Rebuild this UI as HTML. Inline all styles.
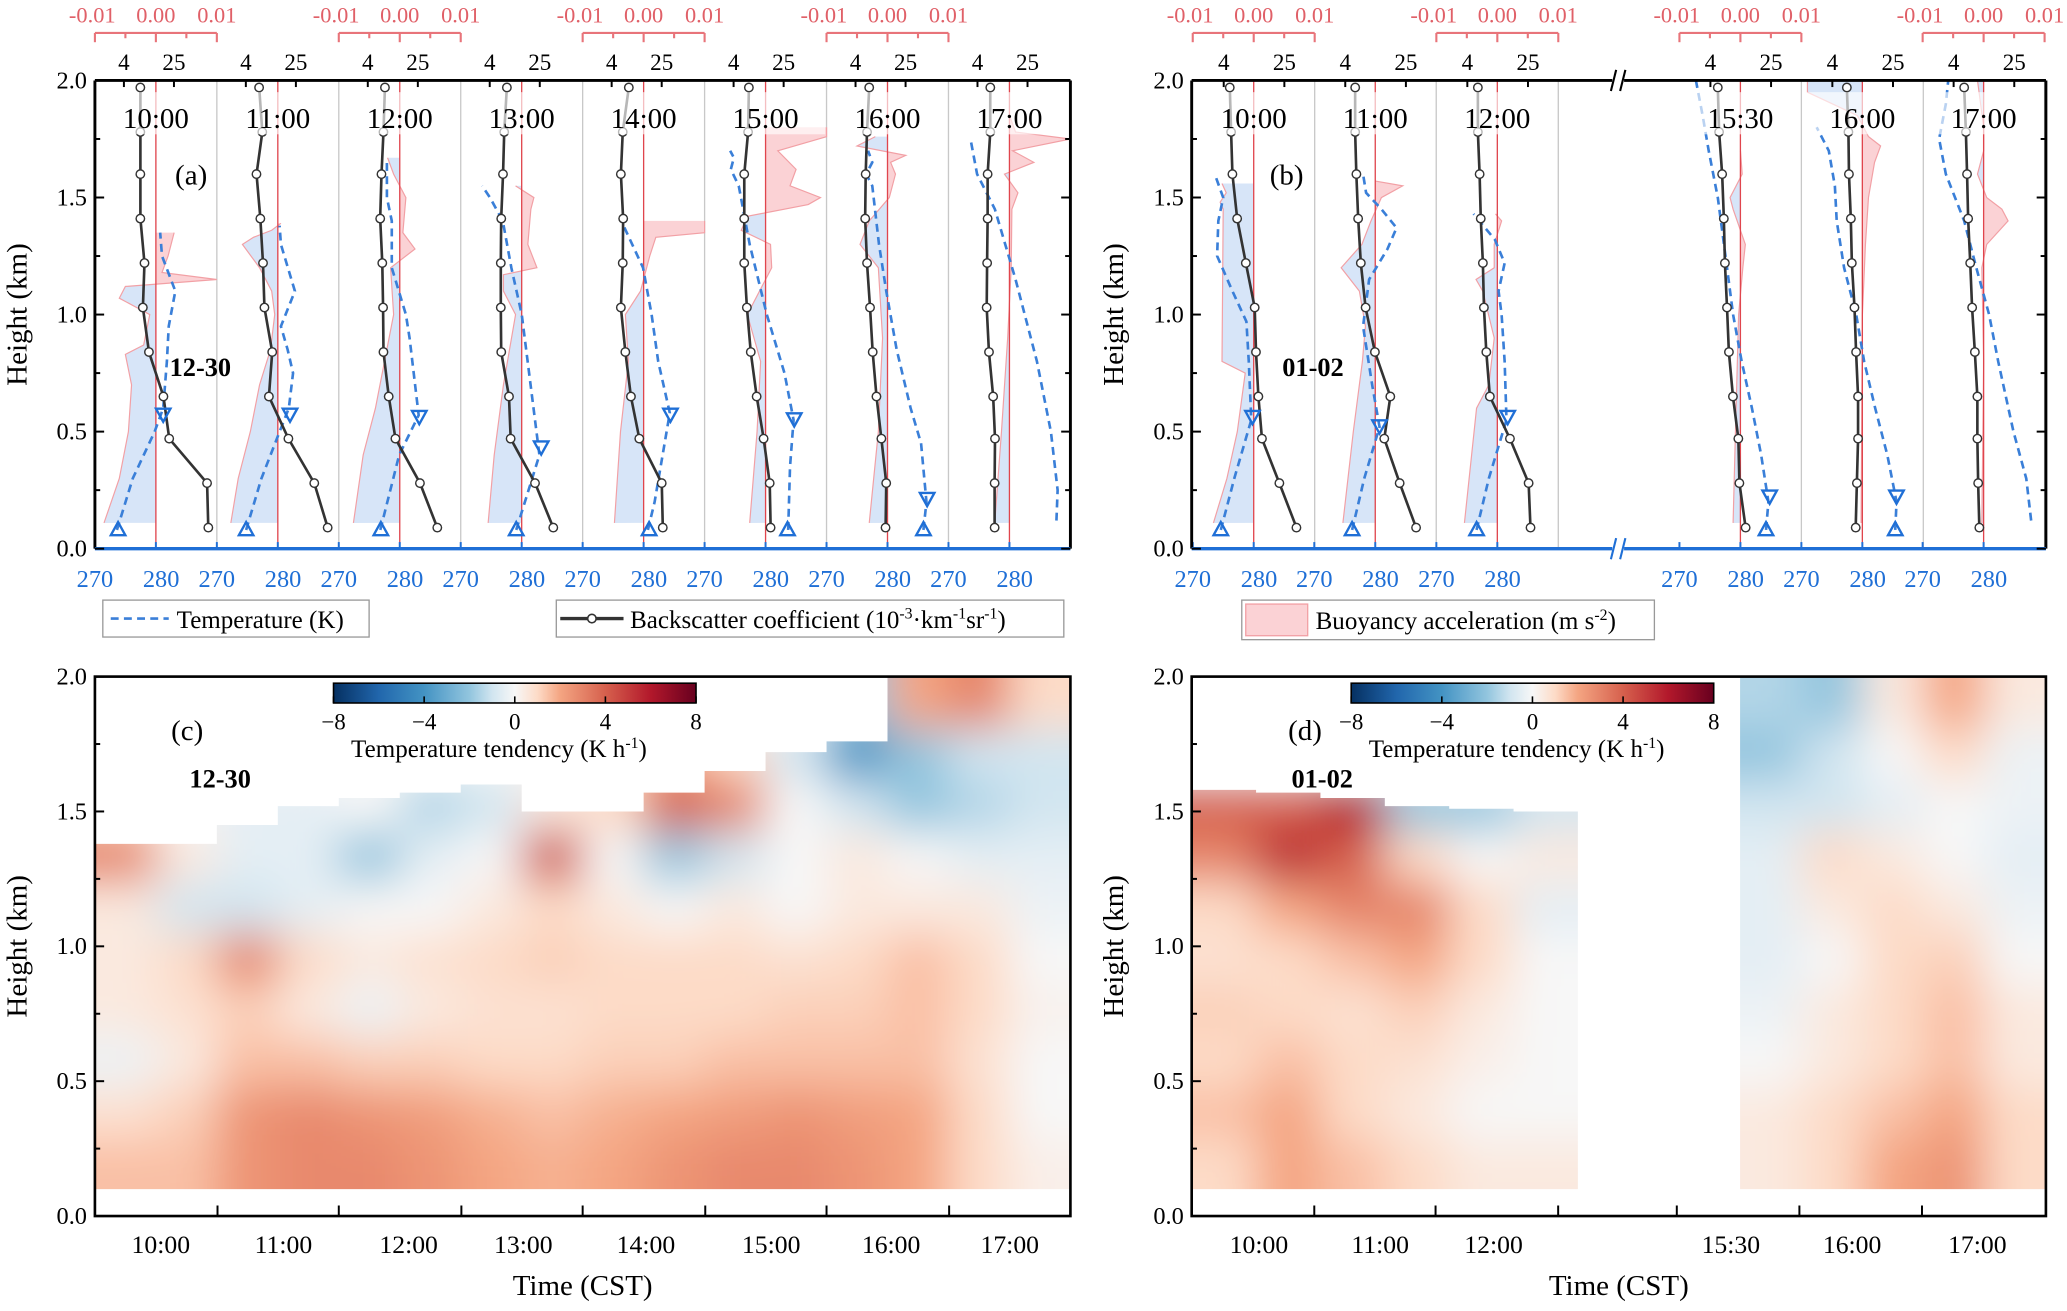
<!DOCTYPE html>
<html><head><meta charset="utf-8">
<style>
html,body{margin:0;padding:0;background:#fff;}
svg{display:block;font-family:"Liberation Serif",serif;}
</style></head>
<body>
<svg id="fig" xmlns="http://www.w3.org/2000/svg" width="2067" height="1311" viewBox="0 0 1568 994" preserveAspectRatio="none"></svg>
<script>
// ---------- DATA ----------
const bsHeights = [0.09,0.28,0.47,0.65,0.84,1.03,1.22,1.41,1.6,1.78,1.97];
const timesA = ["10:00","11:00","12:00","13:00","14:00","15:00","16:00","17:00"];
const timesB = ["10:00","11:00","12:00","15:30","16:00","17:00"];
const backscatterA = [
 [88,84,21,17,10,8,8.5,7.3,7.3,7.3,7.3],
 [80,49,19,9.3,10.5,7.9,7.5,6.8,5.9,7.3,6.5],
 [51,27,11,8.6,7.1,7,6.8,6.3,6.6,7.1,7.5],
 [41,21,8.6,8.1,6.1,6,6,6.1,6.5,6.8,7.5],
 [26,25,11,8.1,6.6,5.6,6,6.1,5.6,6,7.5],
 [15.5,15,12,9.3,7.5,6.5,5.9,5.9,5.9,6.8,7],
 [12,12.3,10.3,8.6,7.5,6.8,6.1,5.7,5.8,6.1,6.6],
 [7.5,7.5,7.6,7.1,6.1,5.6,5.7,5.8,5.8,6.4,6.4]];
const backscatterB = [
 [36,21.5,12.7,11.4,10.6,10.2,7.8,6,5.2,5,4.8],
 [34,20.7,13,15.6,9.8,7.4,6.4,5.9,5.6,5.4,5.4],
 [27,25.5,14.5,7.9,7.1,6.6,6.4,6,5.8,5.5,5.5],
 [11.6,9.6,9.3,7.9,7,6.6,6.2,6,5.7,5.2,5],
 [8.1,8.4,8.7,8.7,8.2,7.8,7.2,7,6.6,6.5,6.2],
 [8.7,8.4,8.2,8.2,7.6,7,6.6,6.2,6,5.8,5.5]];
const temperatureA = [
 [[0.08,273.6],[0.3,276.2],[0.5,279.8],[0.6,281.2],[0.8,281.8],[0.95,282.1],[1.1,283.2],[1.25,281],[1.35,280.7]],
 [[0.08,274.8],[0.3,277.3],[0.5,280.3],[0.6,281.8],[0.75,282.5],[0.85,281.6],[0.95,280.5],[1.1,282.8],[1.3,280.5],[1.38,280.3]],
 [[0.08,276.8],[0.4,279.9],[0.57,283.1],[0.9,281.6],[1.0,281],[1.2,278.7],[1.4,278.7],[1.5,277.9],[1.66,277.9]],
 [[0.08,279.1],[0.4,282.9],[0.65,281.7],[1.0,280],[1.2,278.3],[1.4,276.9],[1.5,274.8],[1.55,273.5]],
 [[0.08,280.7],[0.2,281.8],[0.58,284.3],[0.8,282.4],[1.0,281.3],[1.2,279.9],[1.38,276.7]],
 [[0.08,283.7],[0.35,284],[0.55,284.6],[0.75,283.1],[1.0,280.2],[1.3,277.4],[1.55,275.6],[1.62,274.3],[1.67,274.8],[1.7,274.2]],
 [[0.08,285.9],[0.2,286.4],[0.45,285.5],[0.6,283.8],[0.85,281.5],[1.1,279.8],[1.3,278.6],[1.55,277.5],[1.6,276.5],[1.65,277.5],[1.7,276.8]],
 [[0.12,287.7],[0.25,287.9],[0.5,286.8],[0.8,284.5],[1.15,281],[1.45,277.6],[1.6,274.7],[1.75,273.6]]];
const temperatureB = [
 [[0.08,274.6],[0.3,276.8],[0.55,279.6],[0.8,279.2],[0.97,278.8],[1.1,276.5],[1.25,274],[1.4,274.2],[1.5,275],[1.6,273.6]],
 [[0.08,276.2],[0.3,278.2],[0.52,280.7],[0.7,279.5],[0.95,278],[1.15,279],[1.28,282],[1.37,283.5],[1.45,281],[1.52,278.5],[1.6,278]],
 [[0.08,276.6],[0.3,278.6],[0.55,281.5],[0.8,281.2],[1.0,280.7],[1.1,280.2],[1.22,281.2],[1.32,279.6],[1.43,276.1]],
 [[0.08,284.2],[0.2,284.6],[0.4,283.4],[0.6,281.9],[0.8,280.2],[1.0,278.8],[1.2,277.8],[1.5,276.3],[1.7,274.8],[1.85,273.8],[2.0,272.7]],
 [[0.08,285.4],[0.2,285.6],[0.4,284.1],[0.6,282.1],[0.8,280.3],[1.0,279],[1.2,277],[1.4,275.8],[1.55,275.5],[1.7,274.5],[1.8,272.5]],
 [[0.12,287.8],[0.3,287],[0.5,284.9],[0.8,282.4],[1.0,280.9],[1.2,278.8],[1.4,276.8],[1.6,273.8],[1.75,272.7],[1.9,273.8],[2.0,274.2]]];
const buoyancyA = [
 [[0.11,-0.0085],[0.3,-0.006],[0.5,-0.0045],[0.7,-0.004],[0.83,-0.005],[0.87,-0.002],[1.0,-0.001],[1.07,-0.006],[1.12,-0.005],[1.15,0.01],[1.18,0.001],[1.25,0.002],[1.35,0.003]],
 [[0.11,-0.0077],[0.3,-0.0065],[0.5,-0.0045],[0.7,-0.003],[0.85,-0.0012],[1.0,-0.0005],[1.1,-0.001],[1.2,-0.003],[1.3,-0.0058],[1.33,-0.004],[1.36,-0.001],[1.39,0.0005]],
 [[0.11,-0.0076],[0.4,-0.006],[0.6,-0.004],[0.8,-0.0025],[1.0,-0.001],[1.2,-0.0015],[1.28,0.0025],[1.35,0.0005],[1.5,0.001],[1.6,-0.001],[1.67,-0.002]],
 [[0.11,-0.0055],[0.4,-0.0045],[0.7,-0.003],[1.0,-0.001],[1.1,-0.003],[1.17,-0.003],[1.2,0.0025],[1.3,0.001],[1.45,0.0015],[1.5,0.002],[1.55,-0.001]],
 [[0.11,-0.0048],[0.5,-0.0038],[0.8,-0.0025],[1.0,-0.003],[1.1,-0.0005],[1.25,0.001],[1.33,0.002],[1.35,0.01],[1.4,0.01]],
 [[0.11,-0.0026],[0.5,-0.0014],[0.8,-0.0008],[1.0,-0.003],[1.2,0.001],[1.3,0.0008],[1.36,-0.004],[1.42,-0.003],[1.47,0.007],[1.5,0.009],[1.55,0.004],[1.62,0.005],[1.7,0.002],[1.76,0.01],[1.8,0.01]],
 [[0.11,-0.003],[0.5,-0.0015],[0.9,-0.0008],[1.2,-0.0015],[1.3,-0.0045],[1.4,-0.003],[1.5,0.0003],[1.6,0.0013],[1.65,0.0005],[1.68,0.003],[1.72,-0.005],[1.76,-0.002]],
 [[0.11,-0.0024],[0.5,-0.0013],[0.9,-0.0003],[1.2,0.0003],[1.45,0.0004],[1.52,0.0014],[1.6,-0.0008],[1.65,0.004],[1.7,0.0005],[1.75,0.01],[1.78,0.001],[1.85,0]]];
const buoyancyB = [
 [[0.11,-0.0066],[0.3,-0.0044],[0.5,-0.0027],[0.75,-0.0014],[0.8,-0.0052],[1.45,-0.005],[1.48,-0.0055],[1.52,-0.0045],[1.56,-0.0052]],
 [[0.11,-0.0053],[0.5,-0.0036],[0.8,-0.0021],[0.95,-0.0016],[1.1,-0.0026],[1.2,-0.0056],[1.3,-0.0022],[1.4,-0.0007],[1.5,0.001],[1.55,0.0045],[1.57,0]],
 [[0.11,-0.0054],[0.6,-0.0034],[0.7,-0.0014],[0.9,-0.0005],[1.1,-0.0024],[1.15,-0.0035],[1.2,-0.0005],[1.3,-0.0005],[1.4,0.0007],[1.43,-0.0003]],
 [[0.11,-0.0012],[0.5,-0.0008],[1.0,-0.0003],[1.2,0.0004],[1.3,0.0008],[1.45,-0.0012],[1.5,-0.0017],[1.6,0.0003],[1.7,0]],
 [[0.11,-0.0002],[1.0,0],[1.3,0.0005],[1.5,0.001],[1.65,0.002],[1.72,0.003],[1.76,0.001],[1.85,-0.0008],[1.95,-0.009],[2.0,-0.009]],
 [[0.11,-0.0003],[0.8,0],[1.2,-0.0003],[1.3,0.0005],[1.4,0.004],[1.45,0.003],[1.5,0.0005],[1.6,-0.001],[1.7,0],[1.8,0],[2.0,-0.001]]];
const pblTopA = [[0.57,281.2],[0.57,282],[0.56,283.2],[0.43,283.2],[0.57,284.4],[0.55,284.7],[0.21,286.5],null];
const sblA = [[0.08,273.8],[0.08,274.8],[0.08,276.9],[0.08,279.1],[0.08,280.9],[0.08,283.6],[0.08,285.9],null];
const pblTopB = [[0.56,279.8],[0.52,280.7],[0.56,281.7],[0.22,284.8],[0.22,285.6],null];
const sblB = [[0.08,274.6],[0.08,276.2],[0.08,276.6],[0.08,284.2],[0.08,285.4],null];

// heatmap (c) 10 rows (bottom->top, 0.1..2.0) x 16 cols
const tendC = [
 [1.5,1.5,2.5,2.8,2.8,2.5,2,1.8,2,2.5,2.8,2.8,2.5,2,1,0.3],
 [0.8,1.2,2.5,2.8,2.5,2.2,1.8,1.5,1.8,2,2.2,2.5,2.2,2,1,0],
 [-0.3,0.5,1.5,1.5,1.2,1.2,1,1,1.2,1.2,1.5,1.5,1.5,1.5,0.8,0],
 [0.5,0.8,1.2,0.5,-0.3,0.5,0.8,0.8,1,1,1,1.2,1.2,1.5,1,0.2],
 [0.5,1,3,1,0.5,0.8,1,1.2,1,1,1,0.8,1,1.5,1,0],
 [0.5,-1,-1,-0.5,0,0,0.5,1,0.5,0,0.5,0,0.5,0.5,0.5,-0.3],
 [3,0.5,-0.5,-0.5,-2,-0.5,0,4.5,0,-2,-1,0,0.5,0,-0.5,-0.5],
 [1,0,-0.5,-0.5,0,-1.5,-1,0.5,1,4,3,0,-1,-2,-1.5,-1],
 [0,0,0,0,0,0,0,0,1,2,1,-1,-4,-2,-1,-1],
 [0,0,0,0,0,0,0,0,0,0,0,0,-2,2,3,1]];
const topsC = [1.38,1.38,1.45,1.52,1.55,1.57,1.6,1.5,1.5,1.57,1.65,1.72,1.76,2,2,2];
const tendDL = [
 [1,2,1.5,1,0.5,0.5],
 [1.5,2,1,0.5,0,0],
 [1,1.5,1,0.8,0.3,0],
 [1.2,1,0.8,1.2,0.5,0],
 [0.8,1,1.5,2,1,0],
 [1,2,3,3,1,-0.5],
 [3,5.5,4,1,0,0.5],
 [4,4,6,-2,-2,-1],
 [0,0,0,0,0,0],
 [0,0,0,0,0,0]];
const topsDL = [1.58,1.57,1.55,1.52,1.51,1.5];
const tendDR = [
 [0.5,1,2,2.5,1],
 [0.5,1,1.5,2,1],
 [0,0.5,1,1.5,0.5],
 [-0.3,0.5,1,1.5,0.5],
 [-0.5,0,1,1.2,0],
 [-0.5,0.5,1,0.5,-0.3],
 [-0.5,1,0.5,0,-0.5],
 [-1,-1,-0.5,0,-0.3],
 [-2,-1,0,1,-0.3],
 [-1.5,-2,0.5,2,0.5]];
const topsDR = [2,2,2,2,2];
const cbTicks = [-8,-4,0,4,8];
const timeLabelsC = ["10:00","11:00","12:00","13:00","14:00","15:00","16:00","17:00"];
const timeLabelsD = ["10:00","11:00","12:00","15:30","16:00","17:00"];

// ---------- HELPERS ----------
const NS="http://www.w3.org/2000/svg";
const svg=document.getElementById('fig');
function mk(tag,attrs,parent){const e=document.createElementNS(NS,tag);for(const k in attrs)e.setAttribute(k,attrs[k]);(parent||svg).appendChild(e);return e;}
function txt(s,x,y,size,attrs,parent){const e=mk('text',Object.assign({x:x,y:y,'font-size':size,'text-anchor':'middle'},attrs||{}),parent);e.textContent=s;return e;}
const defs=mk('defs',{});
let clipId=0;
function clipRect(x,y,w,h){const id='cl'+(clipId++);const c=mk('clipPath',{id:id},defs);mk('rect',{x:x,y:y,width:w,height:h},c);return 'url(#'+id+')';}

const stops=[[-8,[5,48,97]],[-6,[33,102,172]],[-4,[67,147,195]],[-2,[146,197,222]],[-1,[209,229,240]],[0,[247,247,247]],[1,[253,219,199]],[2,[244,165,130]],[4,[214,96,77]],[6,[178,24,43]],[8,[103,0,31]]];
function cmap(v){v=Math.max(-8,Math.min(8,v));for(let i=0;i<stops.length-1;i++){const a=stops[i],b=stops[i+1];if(v>=a[0]&&v<=b[0]){const t=(v-a[0])/(b[0]-a[0]);const c=a[1].map((x,j)=>Math.round(x+(b[1][j]-x)*t));return 'rgb('+c.join(',')+')';}}return '#fff';}

// ---------- PROFILE PANELS ----------
const BLUE='#1f6fd6', RED='#e8747a';
function profilePanel(cfg){
  const yTop=61,yBot=416;
  const Y=h=>yBot-h/2*(yBot-yTop);
  const g=mk('g',{});
  
  
  cfg.lefts.forEach((L,i)=>{
    const w=cfg.w;
    const XT=T=>L+(T-270)/20*w;
    const XB=b=>L+(b+0.01)/0.02*w;
    const XS=v=>L+cfg.bs4+(Math.log10(v)-Math.log10(4))*cfg.perDec;
    const sg=mk('g',{},g);
    
    
    mk('line',{x1:L+w,y1:yTop,x2:L+w,y2:yBot,stroke:'#c8c8c8','stroke-width':1},sg);
    const bp=cfg.buoy[i];
    let d='M'+XB(0)+','+Y(bp[0][0]);
    bp.forEach(p=>{d+=' L'+XB(p[1]).toFixed(1)+','+Y(p[0]).toFixed(1);});
    d+=' L'+XB(0)+','+Y(bp[bp.length-1][0])+' Z';
    const ba=mk('path',{d:d,fill:'#d7e5f8','clip-path':clipRect(L,yTop,w/2,yBot-yTop)},sg);
    
    
    const bb=mk('path',{d:d,fill:'#fbd2d5','clip-path':clipRect(L+w/2,yTop,w/2,yBot-yTop)},sg);
    
    
    let d2='';bp.forEach((p,k)=>{d2+=(k?' L':'M')+XB(p[1]).toFixed(1)+','+Y(p[0]).toFixed(1);});
    mk('path',{d:d2,fill:'none',stroke:'#f2a0a5','stroke-width':0.9},sg);
    mk('line',{x1:XB(0),y1:yTop,x2:XB(0),y2:yBot,stroke:'#e0454d','stroke-width':1},sg);
    let dt='';cfg.temp[i].forEach((p,k)=>{dt+=(k?' L':'M')+XT(p[1]).toFixed(1)+','+Y(p[0]).toFixed(1);});
    const tl=mk('path',{d:dt,fill:'none',stroke:'#3a7fd8','stroke-width':2,'stroke-dasharray':'6,4'},sg);
    
    
    let ds='';bsHeights.forEach((h,k)=>{ds+=(k?' L':'M')+XS(cfg.bs[i][k]).toFixed(1)+','+Y(h).toFixed(1);});
    const bl=mk('path',{d:ds,fill:'none',stroke:'#333','stroke-width':2},sg);
    
    
    bsHeights.forEach((h,k)=>{
      const c=mk('circle',{cx:XS(cfg.bs[i][k]),cy:Y(h),r:3.2,fill:'#fff',stroke:'#333','stroke-width':1.1},sg);
      
      
    });
    if(cfg.sbl[i]){const p=cfg.sbl[i];const x=XT(p[1]),y=Y(p[0]);
      const t=mk('path',{d:`M${x},${y-6} L${x+5.5},${y+4} L${x-5.5},${y+4} Z`,fill:'none',stroke:BLUE,'stroke-width':1.8},sg);
      
      }
    if(cfg.pbl[i]){const p=cfg.pbl[i];const x=XT(p[1]),y=Y(p[0]);
      const t=mk('path',{d:`M${x-5.5},${y-5} L${x+5.5},${y-5} L${x},${y+5} Z`,fill:'none',stroke:BLUE,'stroke-width':1.8},sg);
      
      }
    mk('rect',{x:L+1,y:Y(1.95),width:w-2,height:Y(1.77)-Y(1.95),fill:'#fff',opacity:0.65},sg);
    const tt=txt(cfg.times[i],L+w/2,97,22,{},sg);
    
    
    txt('270',L,445,18.5,{fill:BLUE},sg);
    txt('280',XT(280)+4,445,18.5,{fill:BLUE},sg);
    mk('line',{x1:XT(280),y1:yBot,x2:XT(280),y2:yBot-5,stroke:BLUE,'stroke-width':1.5},sg);
    mk('line',{x1:L,y1:yBot,x2:L,y2:yBot-5,stroke:BLUE,'stroke-width':1.5},sg);
    [4,25].forEach(v=>{mk('line',{x1:XS(v),y1:yTop,x2:XS(v),y2:yTop+5,stroke:'#000','stroke-width':1.5},sg);
      txt(String(v),XS(v),53,17.5,{},sg);});
    if(cfg.redAxis[i]){
      const ra=mk('g',{stroke:'#e8747a','stroke-width':1.6,fill:'none'},sg);
      
      
      mk('line',{x1:L,y1:25,x2:L+w,y2:25},ra);
      [-0.01,-0.005,0,0.005,0.01].forEach((b,k)=>mk('line',{x1:XB(b),y1:25,x2:XB(b),y2:k%2?29:32},ra));
      ['-0.01','0.00','0.01'].forEach((s,k)=>txt(s,XB(-0.01+k*0.01)+(k==0?-2:0),17,17,{fill:'#e06068'},sg));
    }
  });
  mk('line',{x1:cfg.x0,y1:yTop,x2:cfg.x1,y2:yTop,stroke:'#000','stroke-width':2.2},g);
  mk('line',{x1:cfg.x0,y1:yTop,x2:cfg.x0,y2:yBot,stroke:'#000','stroke-width':2.2},g);
  mk('line',{x1:cfg.x1,y1:yTop,x2:cfg.x1,y2:yBot,stroke:'#000','stroke-width':2.2},g);
  mk('line',{x1:cfg.x0,y1:yBot,x2:cfg.x1,y2:yBot,stroke:BLUE,'stroke-width':2.6},g);
  for(let k=0;k<=8;k++){const y=Y(k*0.25);const len=k%2?4:7;
    mk('line',{x1:cfg.x0,y1:y,x2:cfg.x0+len,y2:y,stroke:'#000','stroke-width':1.5},g);
    mk('line',{x1:cfg.x1,y1:y,x2:cfg.x1-len,y2:y,stroke:'#000','stroke-width':1.5},g);
    if(k%2==0) txt((k*0.25).toFixed(1),cfg.x0-6,y+6,18.5,{'text-anchor':'end'},g);}
  if(cfg.brk){const bx=cfg.brk;
    [yTop,yBot].forEach(y=>{mk('rect',{x:bx-5,y:y-4,width:9,height:8,fill:'#fff'},g);
      mk('line',{x1:bx-6,y1:y+8,x2:bx-2,y2:y-8,stroke:y==yBot?BLUE:'#000','stroke-width':1.6},g);
      mk('line',{x1:bx+1,y1:y+8,x2:bx+5,y2:y-8,stroke:y==yBot?BLUE:'#000','stroke-width':1.6},g);});}
  const yl=txt('Height (km)',0,0,22,{transform:`translate(${cfg.x0-52},${(yTop+yBot)/2}) rotate(-90)`},g);
  
  
  txt(cfg.tag,cfg.tagX,140,22,{},g);
  txt(cfg.date,cfg.dateX,285,20,{'font-weight':'bold'},g);
}
profilePanel({name:'panel-a',x0:72,x1:812,lefts:[72,164.5,257,349.5,442,534.5,627,719.5],w:92.5,bs4:22,perDec:47.7,
  times:timesA,bs:backscatterA,temp:temperatureA,buoy:buoyancyA,pbl:pblTopA,sbl:sblA,
  redAxis:[1,0,1,0,1,0,1,0],tag:'(a)',tagX:145,date:'12-30',dateX:152});
profilePanel({name:'panel-b',x0:904,x1:1552,lefts:[904.8,997,1089.6,1274,1366.5,1458.5],w:92.5,bs4:23.5,perDec:57.8,
  times:timesB,bs:backscatterB,temp:temperatureB,buoy:buoyancyB,pbl:pblTopB,sbl:sblB,
  redAxis:[1,0,1,1,0,1],tag:'(b)',tagX:976,date:'01-02',dateX:996,brk:1228});

function legendBox(x,y,w,h,name){const r=mk('rect',{x:x,y:y,width:w,height:h,fill:'#fff',stroke:'#999','stroke-width':1});}
legendBox(78,455,202,28,'legend-temperature');
mk('line',{x1:84,y1:469,x2:128,y2:469,stroke:'#3a7fd8','stroke-width':2,'stroke-dasharray':'6,4'});
txt('Temperature (K)',134,476,19,{'text-anchor':'start'});
legendBox(422,455,385,28,'legend-backscatter');
mk('line',{x1:425,y1:469,x2:473,y2:469,stroke:'#333','stroke-width':2.5});
mk('circle',{cx:449,cy:469,r:3.2,fill:'#fff',stroke:'#333','stroke-width':1.2});
(function(){const t=txt('',478,476,19,{'text-anchor':'start'});
 t.innerHTML='Backscatter coefficient (10<tspan dy="-7" font-size="12">-3</tspan><tspan dy="7">·km</tspan><tspan dy="-7" font-size="12">-1</tspan><tspan dy="7">sr</tspan><tspan dy="-7" font-size="12">-1</tspan><tspan dy="7">)</tspan>';})();
legendBox(942,455,313,30,'legend-buoyancy');
mk('rect',{x:945,y:458,width:47,height:24,fill:'#fbd2d5',stroke:'#f2a0a5'});
(function(){const t=txt('',998,477,19,{'text-anchor':'start'});
 t.innerHTML='Buoyancy acceleration (m s<tspan dy="-7" font-size="12">-2</tspan><tspan dy="7">)</tspan>';})();

// ---------- HEATMAPS ----------
const blur=mk('filter',{id:'blur',filterUnits:'userSpaceOnUse',x:0,y:400,width:1568,height:594},defs);
mk('feGaussianBlur',{stdDeviation:17},blur);
function heatBlock(x0,x1,yBot,yTop,grid,tops,name){
  const Y=h=>yBot-h/2*(yBot-yTop);
  const nc=grid[0].length,nr=grid.length,cw=(x1-x0)/nc,rh=(Y(0.1)-Y(2.0))/nr;
  const id='hc'+(clipId++);const cp=mk('clipPath',{id:id},defs);
  let pts=[[x0,Y(0.1)]];tops.forEach((t,i)=>{pts.push([x0+i*cw,Y(t)]);pts.push([x0+(i+1)*cw,Y(t)]);});pts.push([x1,Y(0.1)]);
  mk('polygon',{points:pts.map(p=>p.join(',')).join(' ')},cp);
  const outer=mk('g',{'clip-path':'url(#'+id+')'});
  
  
  const inner=mk('g',{filter:'url(#blur)'},outer);
  for(let r=0;r<nr;r++)for(let c=0;c<nc;c++){
    let x=x0+c*cw,y=Y(0.1)-(r+1)*rh,w=cw,h=rh;
    if(c==0){x-=50;w+=50;} if(c==nc-1){w+=50;}
    if(r==0){h+=50;} if(r==nr-1){y-=50;h+=50;}
    const cell=mk('rect',{x:x,y:y,width:w+0.5,height:h+0.5,fill:cmap(grid[r][c])},inner);
    
    
  }
}
heatBlock(72,812,922,513,tendC,topsC,'heatmap-c');
heatBlock(904,1197,922,513,tendDL,topsDL,'heatmap-d-left');
heatBlock(1320,1552,922,513,tendDR,topsDR,'heatmap-d-right');

function mapAxes(x0,x1,ticksX,labels,labelX,tag,tagX,date,dateX,cbx,name){
  const yTop=513,yBot=922;const Y=h=>yBot-h/2*(yBot-yTop);
  const g=mk('g',{});
  
  
  mk('rect',{x:x0,y:yTop,width:x1-x0,height:yBot-yTop,fill:'none',stroke:'#000','stroke-width':2},g);
  for(let k=0;k<=8;k++){const y=Y(k*0.25);const len=k%2?4:7;
    mk('line',{x1:x0,y1:y,x2:x0+len,y2:y,stroke:'#000','stroke-width':1.5},g);
    if(k%2==0) txt((k*0.25).toFixed(1),x0-6,y+6,18.5,{'text-anchor':'end'},g);}
  ticksX.forEach(x=>mk('line',{x1:x,y1:yBot,x2:x,y2:yBot-8,stroke:'#000','stroke-width':1.5},g));
  labels.forEach((s,i)=>{const t=txt(s,labelX[i],950,19.5,{},g);});
  const xt=txt('Time (CST)',(x0+x1)/2,982,22,{},g);
  
  
  const yl=txt('Height (km)',0,0,22,{transform:`translate(${x0-52},${(yTop+yBot)/2}) rotate(-90)`},g);
  
  
  txt(tag,tagX,561,22,{},g);
  txt(date,dateX,597,20,{'font-weight':'bold'},g);
  const gid='grad'+(clipId++);const lg=mk('linearGradient',{id:gid,x1:0,x2:1,y1:0,y2:0},defs);
  for(let v=-8;v<=8;v+=1)mk('stop',{offset:((v+8)/16),'stop-color':cmap(v)},lg);
  const cw=275;
  const cb=mk('rect',{x:cbx,y:518,width:cw,height:15,fill:'url(#'+gid+')',stroke:'#000','stroke-width':1.2},g);
  
  
  cbTicks.forEach(v=>{const x=cbx+(v+8)/16*cw;mk('line',{x1:x,y1:533,x2:x,y2:528,stroke:'#000','stroke-width':1.2},g);
    txt(v<0?'\u2212'+Math.abs(v):String(v),x,553,17.5,{},g);});
  const ct=txt('',cbx+cw/2-12,574,19,{},g);
  ct.innerHTML='Temperature tendency (K h<tspan dy="-7" font-size="12">-1</tspan><tspan dy="7">)</tspan>';
}
mapAxes(72,812,[165,257,350,442,535,627,720],timeLabelsC,[122,215,310,397,490,585,676,766],'(c)',142,'12-30',167,253,'panel-c');
mapAxes(904,1552,[997,1089,1182,1272,1365,1458],timeLabelsD,[955,1047,1133,1313,1405,1500],'(d)',990,'01-02',1003,1025,'panel-d');
</script>
</body></html>
